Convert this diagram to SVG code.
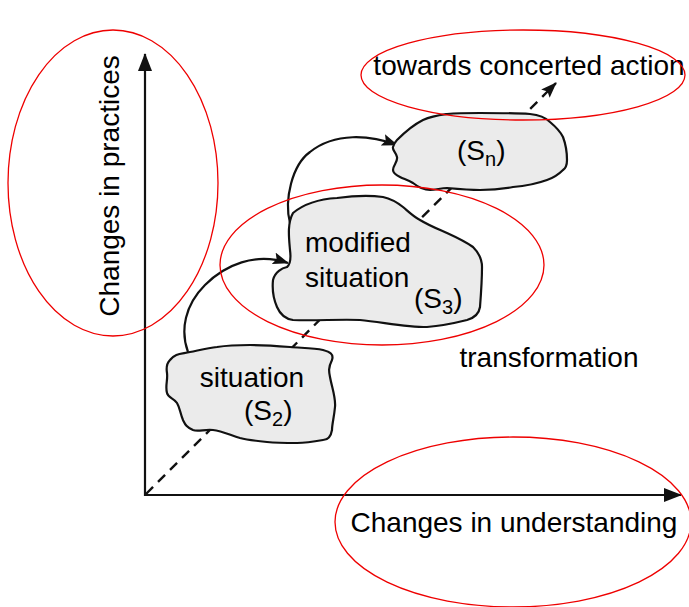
<svg xmlns="http://www.w3.org/2000/svg" width="689" height="607" viewBox="0 0 689 607">
<defs>
<style>
.t{font-family:"Liberation Sans",Arial,sans-serif;font-size:28px;fill:#000}
.sub{font-size:20px}
.blob{fill:#ebebeb;stroke:#111;stroke-width:2.2;stroke-linejoin:round}
.ax{stroke:#111;stroke-width:2.2;fill:none}
.red{fill:none;stroke:#e00;stroke-width:1.3}
</style>
<marker id="ah" viewBox="0 0 16 12" refX="15" refY="6" markerWidth="16" markerHeight="12" orient="auto" markerUnits="userSpaceOnUse">
<path d="M0,0 L16,6 L0,12 L3,6 z" fill="#111"/>
</marker>
<marker id="ax" viewBox="0 0 18 14" refX="17" refY="7" markerWidth="18" markerHeight="14" orient="auto" markerUnits="userSpaceOnUse">
<path d="M0,0 L18,7 L0,14 z" fill="#111"/>
</marker>
</defs>
<rect width="689" height="607" fill="#fff"/>
<g id="connectors">
<line class="ax" x1="145" y1="496" x2="145" y2="54" marker-end="url(#ax)"/>
<line class="ax" x1="144" y1="495" x2="681" y2="495" marker-end="url(#ax)"/>
<line x1="146" y1="494" x2="556" y2="83" stroke="#111" stroke-width="2.4" stroke-dasharray="10,7" marker-end="url(#ah)"/>
<path class="ax" d="M188,352 C180,330 185,305 205,285 C225,265 255,252 288,263" marker-end="url(#ah)"/>
<path class="ax" d="M290,223 C284,200 292,165 310,152 C335,132 370,135 397,145" marker-end="url(#ah)"/>
</g>
<g id="s2">
<path class="blob" d="M170,360 C175,353 182,354 190,352 C200,350 208,348 217,347 C230,345 240,345 250,345 C265,345 278,346 290,347 C302,348 314,348 323,350 C330,352 334,354 332,360 C328,368 329,372 330,377 C332,388 336,398 335,407 C334,418 332,424 332,430 C331,436 328,440 323,440 C312,442 305,443 297,443 C287,443 277,443 267,442 C257,441 248,440 240,438 C230,435 222,431 213,430 C205,429 198,432 193,430 C186,427 185,424 183,420 C180,413 180,408 177,403 C174,398 168,398 167,393 C165,386 168,380 167,373 C166,367 167,363 170,360 Z"/>
<text class="t" x="252" y="387" text-anchor="middle">situation</text>
<text class="t" x="244" y="420">(S<tspan class="sub" dy="6">2</tspan><tspan dy="-6">)</tspan></text>
</g>
<g id="s3">
<path class="blob" d="M293,213 C305,203 320,199 337,198 C352,196 368,195 383,197 C392,199 398,203 403,207 C410,213 414,217 420,220 C430,226 438,229 447,233 C458,238 466,242 473,247 C479,253 482,259 482,267 C482,280 481,294 480,307 C479,314 474,318 467,320 C455,323 440,326 427,327 C405,327 382,322 360,320 C340,319 315,321 293,320 C286,319 280,314 277,307 C273,298 272,290 273,280 C275,272 282,268 287,267 C291,264 291,258 290,250 C289,238 287,224 293,213 Z"/>
<text class="t" x="305" y="252">modified</text>
<text class="t" x="305" y="287">situation</text>
<text class="t" x="414" y="308">(S<tspan class="sub" dy="6">3</tspan><tspan dy="-6">)</tspan></text>
</g>
<g id="sn">
<path class="blob" d="M397,140 C405,132 413,125 423,120 C432,116 440,115 447,114 C458,113 470,113 480,113 C497,113 515,113 530,114 C540,115 546,118 550,122 C556,127 560,131 563,137 C566,145 567,152 567,160 C567,165 566,168 563,170 C558,175 553,178 547,180 C536,184 525,186 513,187 C502,189 491,190 480,190 C469,190 458,189 447,188 C441,188 436,190 430,190 C423,190 418,187 413,183 C408,180 404,179 400,177 C396,175 393,173 393,170 C393,165 398,162 397,157 C396,152 392,150 393,147 C394,144 395,142 397,140 Z"/>
<text class="t" x="457" y="160">(S<tspan class="sub" dy="6">n</tspan><tspan dy="-6">)</tspan></text>
</g>
<text class="t" x="549" y="367" text-anchor="middle">transformation</text>
<text class="t" x="529" y="75" text-anchor="middle" font-size="26">towards concerted action</text>
<text class="t" x="514" y="532" text-anchor="middle">Changes in understanding</text>
<text class="t" transform="translate(119,186) rotate(-90)" text-anchor="middle">Changes in practices</text>
<ellipse class="red" cx="113" cy="183" rx="105" ry="153"/>
<ellipse class="red" cx="523" cy="75" rx="162" ry="45"/>
<ellipse class="red" cx="382" cy="265" rx="162" ry="80"/>
<ellipse class="red" cx="513" cy="522" rx="178" ry="85"/>
</svg>
